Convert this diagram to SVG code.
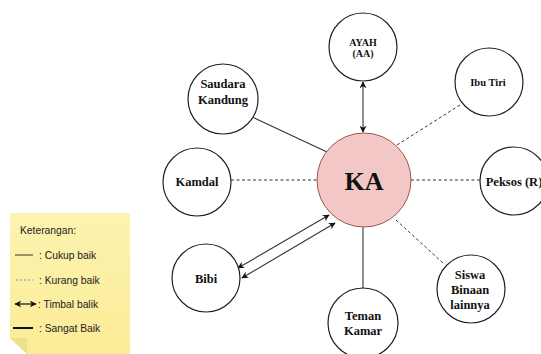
<svg xmlns="http://www.w3.org/2000/svg" width="541" height="354" viewBox="0 0 541 354">
<defs>
<style>
.node{fill:#fff;stroke:#222;stroke-width:1.2}
.lbl{font-family:"Liberation Serif","Times New Roman",serif;font-weight:bold;fill:#111;text-anchor:middle}
.solid{stroke:#333;stroke-width:1.1;fill:none}
.dash{stroke:#333;stroke-width:1;stroke-dasharray:3,2.5;fill:none}
.leg{font-family:"Liberation Sans",Arial,sans-serif;font-size:10.3px;fill:#222}
</style>
<linearGradient id="note" x1="0" y1="0" x2="0" y2="1">
<stop offset="0" stop-color="#fdf3b0"/>
<stop offset="1" stop-color="#fbec96"/>
</linearGradient>
<marker id="ah" viewBox="0 0 10 10" refX="9" refY="5" markerWidth="7" markerHeight="7" orient="auto-start-reverse" markerUnits="userSpaceOnUse">
<path d="M0,0 L10,5 L0,10 L3,5 Z" fill="#111"/>
</marker>
</defs>
<rect width="541" height="354" fill="#fff"/>

<g id="legend">
<path d="M10,213 H130 V354 H27 L10,338 Z" fill="url(#note)"/>
<path d="M10,338 L27,338 L27,354 Z" fill="#efe08a"/>
<text class="leg" x="20" y="234">Keterangan:</text>
<line x1="15" y1="255" x2="33" y2="255" stroke="#333" stroke-width="1"/>
<text class="leg" x="39" y="258.5">: Cukup baik</text>
<line x1="16" y1="280" x2="33" y2="280" stroke="#888" stroke-width="1" stroke-dasharray="2,2"/>
<text class="leg" x="39" y="283.5">: Kurang baik</text>
<line x1="15" y1="304" x2="36" y2="304" stroke="#111" stroke-width="1.2" marker-start="url(#ah)" marker-end="url(#ah)"/>
<text class="leg" x="38" y="307.5">: Timbal balik</text>
<line x1="13" y1="328" x2="33" y2="328" stroke="#111" stroke-width="2"/>
<text class="leg" x="39" y="331.5">: Sangat Baik</text>
</g>

<g id="connectors">
<line class="solid" x1="363" y1="82" x2="363" y2="132" marker-start="url(#ah)" marker-end="url(#ah)"/>
<line class="solid" x1="248" y1="115" x2="327" y2="152"/>
<line class="dash" x1="231" y1="180" x2="317" y2="180"/>
<line class="dash" x1="460" y1="105" x2="397" y2="145"/>
<line class="dash" x1="411" y1="180" x2="480" y2="180"/>
<line class="dash" x1="396" y1="220" x2="443" y2="263"/>
<line class="solid" x1="363" y1="227" x2="363" y2="288"/>
<line class="solid" x1="238" y1="268" x2="329" y2="215" marker-start="url(#ah)" marker-end="url(#ah)"/>
<line class="solid" x1="242" y1="278" x2="335" y2="223" marker-start="url(#ah)" marker-end="url(#ah)"/>
</g>

<g id="KA">
<circle cx="364" cy="180" r="47" fill="#f4c7c7" stroke="#a05555" stroke-width="1"/>
<text class="lbl" x="364" y="190" font-size="26">KA</text>
</g>
<g id="ayah">
<circle class="node" cx="363" cy="47" r="34"/>
<text class="lbl" x="363" y="46" font-size="10">AYAH</text>
<text class="lbl" x="363" y="57" font-size="10">(AA)</text>
</g>
<g id="ibutiri">
<circle class="node" cx="489" cy="82" r="34"/>
<text class="lbl" x="488" y="86" font-size="10.5">Ibu Tiri</text>
</g>
<g id="saudara">
<circle class="node" cx="223" cy="99" r="35"/>
<text class="lbl" x="223" y="88" font-size="12.5">Saudara</text>
<text class="lbl" x="223" y="104" font-size="12.5">Kandung</text>
</g>
<g id="kamdal">
<circle class="node" cx="197" cy="182" r="34"/>
<text class="lbl" x="197" y="186" font-size="12.5">Kamdal</text>
</g>
<g id="peksos">
<circle class="node" cx="514" cy="181" r="34"/>
<text class="lbl" x="514" y="186" font-size="12.5">Peksos (R)</text>
</g>
<g id="siswa">
<circle class="node" cx="471" cy="289" r="34"/>
<text class="lbl" x="470" y="279" font-size="12.5">Siswa</text>
<text class="lbl" x="470" y="294" font-size="12.5">Binaan</text>
<text class="lbl" x="470" y="309" font-size="12.5">lainnya</text>
</g>
<g id="bibi">
<circle class="node" cx="206" cy="278" r="34"/>
<text class="lbl" x="206" y="283" font-size="12.5">Bibi</text>
</g>
<g id="teman">
<circle class="node" cx="363" cy="323" r="35"/>
<text class="lbl" x="363" y="320" font-size="12.5">Teman</text>
<text class="lbl" x="363" y="335" font-size="12.5">Kamar</text>
</g>
</svg>
